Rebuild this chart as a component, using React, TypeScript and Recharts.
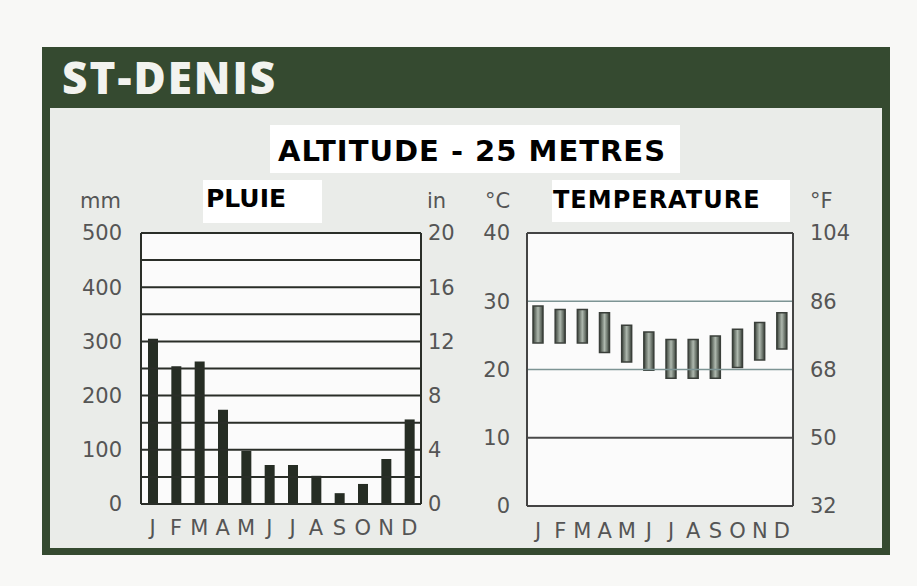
import React from 'react';
import { ComposedChart, Bar, Line, XAxis, YAxis, CartesianGrid, ReferenceLine } from 'recharts';

const months = ['J', 'F', 'M', 'A', 'M', 'J', 'J', 'A', 'S', 'O', 'N', 'D'];
const rainMm = [305, 254, 263, 174, 98, 72, 72, 52, 20, 37, 83, 156];
const tempMin = [23.9, 23.9, 23.9, 22.5, 21.1, 19.9, 18.7, 18.7, 18.7, 20.3, 21.4, 23.0];
const tempMax = [29.3, 28.8, 28.8, 28.3, 26.5, 25.5, 24.4, 24.4, 24.9, 25.9, 26.9, 28.3];

const mmTicks = [0, 100, 200, 300, 400, 500];
const inTicks = [0, 4, 8, 12, 16, 20];
const rainGrid = [50, 100, 150, 200, 250, 300, 350, 400, 450, 500];
const cTicks = [0, 10, 20, 30, 40];
const fTicks = [32, 50, 68, 86, 104];

const title = 'ST-DENIS';
const subtitle = 'ALTITUDE - 25 METRES';
const rainTitle = 'PLUIE';
const tempTitle = 'TEMPERATURE';

const rainData = months.map((m, i) => ({ m, rain: rainMm[i], rainIn: rainMm[i] / 25 }));
const tempData = months.map((m, i) => ({ m, range: [tempMin[i], tempMax[i]], maxF: tempMax[i] * 1.8 + 32 }));

const tickStyle = { fill: '#555', fontSize: 21, fontFamily: 'DejaVu Sans' };
const dark = '#2a2e28';
const frame = '#444';

export default function App() {
  return (
    <div style={{ position: 'absolute', left: 0, top: 0, width: 917, height: 586, background: '#f8f8f6', overflow: 'hidden' }}>
      <div style={{ position: 'absolute', left: 42, top: 47, width: 848, height: 508, background: '#354a30' }} />
      <div style={{ position: 'absolute', left: 50, top: 108, width: 832, height: 440, background: '#eaece9' }} />
      <svg width={917} height={586} style={{ position: 'absolute', left: 0, top: 0 }}>
        <text x={62} y={94} fill="#f2f3ef" fontFamily="Open Sans" fontWeight={800} fontSize={44} letterSpacing={2}>{title}</text>
        <rect x={270} y={125} width={410} height={48} fill="#ffffff" />
        <text x={472} y={161} textAnchor="middle" fill="#000" fontFamily="DejaVu Sans" fontWeight={700} fontSize={29} letterSpacing={1}>{subtitle}</text>
        <rect x={203} y={180} width={119} height={43} fill="#ffffff" />
        <text x={206} y={207} fill="#000" fontFamily="DejaVu Sans" fontWeight={700} fontSize={25}>{rainTitle}</text>
        <rect x={552} y={180} width={238} height={42} fill="#ffffff" />
        <text x={553} y={208} fill="#000" fontFamily="DejaVu Sans" fontWeight={700} fontSize={24} letterSpacing={1}>{tempTitle}</text>
        <text x={80} y={208} fill="#555" fontFamily="DejaVu Sans" fontSize={21}>mm</text>
        <text x={427} y={208} fill="#555" fontFamily="DejaVu Sans" fontSize={21}>in</text>
        <text x={485} y={208} fill="#555" fontFamily="DejaVu Sans" fontSize={21}>°C</text>
        <text x={810} y={208} fill="#555" fontFamily="DejaVu Sans" fontSize={21}>°F</text>
      </svg>

      <div style={{ position: 'absolute', left: 0, top: 0 }}>
        <ComposedChart width={480} height={586} data={rainData} margin={{ top: 233, right: 0, bottom: 0, left: 0 }} barSize={10}>
          <CartesianGrid fill="#fbfbfb" horizontal={false} vertical={false} yAxisId="mm" />
          <XAxis dataKey="m" height={82} tickLine={false} tickSize={0} tickMargin={16} tick={tickStyle} axisLine={{ stroke: dark, strokeWidth: 2 }} interval={0} />
          <YAxis yAxisId="mm" width={141} domain={[0, 500]} ticks={mmTicks} tickLine={false} tickSize={0} tickMargin={19} tick={tickStyle} axisLine={{ stroke: dark, strokeWidth: 2 }} />
          <YAxis yAxisId="in" orientation="right" width={59} domain={[0, 20]} ticks={inTicks} tickLine={false} tickSize={0} tickMargin={7} tick={tickStyle} axisLine={{ stroke: dark, strokeWidth: 2 }} />
          {rainGrid.map((v) => (
            <ReferenceLine key={v} yAxisId="mm" y={v} stroke={dark} strokeWidth={2} />
          ))}
          <Bar yAxisId="mm" dataKey="rain" fill="#262d24" isAnimationActive={false} />
          <Line yAxisId="in" dataKey="rainIn" stroke="none" dot={false} activeDot={false} isAnimationActive={false} />
        </ComposedChart>
      </div>

      <div style={{ position: 'absolute', left: 480, top: 0 }}>
        <ComposedChart width={437} height={586} data={tempData} margin={{ top: 233, right: 0, bottom: 0, left: 0 }} barSize={10}>
          <defs>
            <linearGradient id="tempGrad" x1="0" y1="0" x2="1" y2="0">
              <stop offset="0" stopColor="#3a423a" />
              <stop offset="0.5" stopColor="#aeb8ae" />
              <stop offset="1" stopColor="#3a423a" />
            </linearGradient>
          </defs>
          <CartesianGrid fill="#fbfbfb" horizontal={false} vertical={false} yAxisId="c" />
          <XAxis dataKey="m" height={80} tickLine={false} tickSize={0} tickMargin={17} tick={tickStyle} axisLine={{ stroke: frame, strokeWidth: 2 }} interval={0} />
          <YAxis yAxisId="c" width={47} domain={[0, 40]} ticks={cTicks} tickLine={false} tickSize={0} tickMargin={17} tick={tickStyle} axisLine={{ stroke: frame, strokeWidth: 2 }} />
          <YAxis yAxisId="f" orientation="right" width={124} domain={[32, 104]} ticks={fTicks} tickLine={false} tickSize={0} tickMargin={17} tick={tickStyle} axisLine={{ stroke: frame, strokeWidth: 2 }} />
          <ReferenceLine yAxisId="c" y={10} stroke="#4a4a4a" strokeWidth={2} />
          <ReferenceLine yAxisId="c" y={20} stroke="#7d9494" strokeWidth={1.3} />
          <ReferenceLine yAxisId="c" y={30} stroke="#7d9494" strokeWidth={1.3} />
          <ReferenceLine yAxisId="c" y={40} stroke={frame} strokeWidth={2} />
          <Bar yAxisId="c" dataKey="range" fill="url(#tempGrad)" stroke="#3a3f3a" strokeWidth={1.5} isAnimationActive={false} />
          <Line yAxisId="f" dataKey="maxF" stroke="none" dot={false} activeDot={false} isAnimationActive={false} />
        </ComposedChart>
      </div>
    </div>
  );
}
